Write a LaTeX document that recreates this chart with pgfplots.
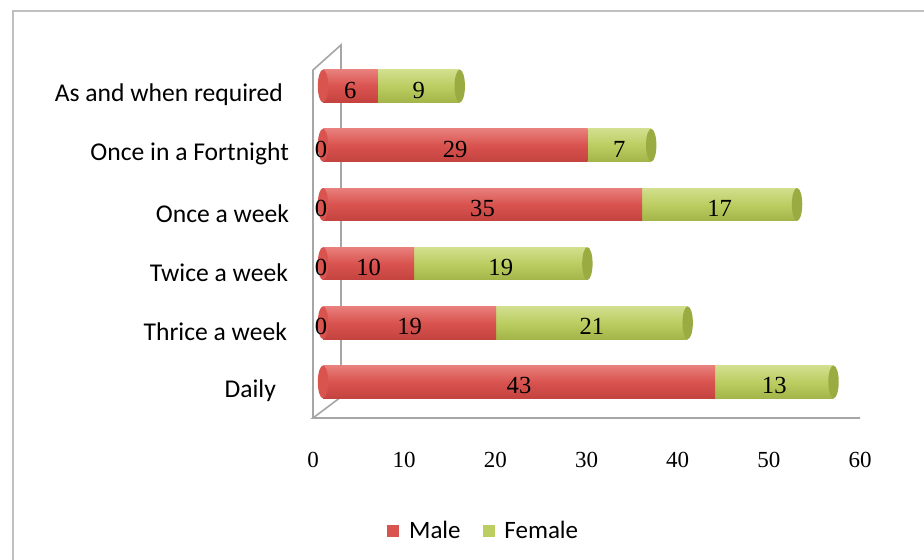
\documentclass[border=0pt]{standalone}
\usepackage{fontspec}
\setmainfont{Carlito}
\newfontfamily\timesf{Liberation Serif}
\usepackage{pgfplots}
\usepackage{pgfplotstable}
\pgfplotsset{compat=1.18}
\definecolor{mred}{HTML}{D9534F}
\definecolor{mredtop}{HTML}{E8807C}
\definecolor{mredbot}{HTML}{C4433F}
\definecolor{fgreen}{HTML}{BCCD62}
\definecolor{fgreentop}{HTML}{D2DF8E}
\definecolor{fgreenbot}{HTML}{A3B548}
\definecolor{capgreen}{HTML}{9AAB42}
\definecolor{framegray}{HTML}{A6A6A6}
\definecolor{bordergray}{HTML}{C0C0C0}

\pgfdeclareplotmark{rcap}{\pgfpathellipse{\pgfpointorigin}{\pgfpoint{2.6pt}{0pt}}{\pgfpoint{0pt}{8.2pt}}\pgfsetfillcolor{capgreen}\pgfusepath{fill}}
\pgfdeclareplotmark{lcap}{\pgfpathellipse{\pgfpointorigin}{\pgfpoint{2.6pt}{0pt}}{\pgfpoint{0pt}{8.2pt}}\pgfsetfillcolor{mred}\pgfusepath{fill}}

\pgfplotstableread{
y zl zero male female
0 {} 0 43 13
1 0 0 19 21
2 0 0 10 19
3 0 0 35 17
4 0 0 29 7
5 {} 0 6 9
}\freqdata

\begin{document}
\begin{tikzpicture}
\useasboundingbox (0pt,0pt) rectangle (462pt,280pt);
\fill[white] (0pt,0pt) rectangle (462pt,280pt);
\draw[bordergray, line width=1.2pt] (6.5pt,0pt) -- (6.5pt,274.5pt) -- (462pt,274.5pt);
\draw[framegray, line width=0.8pt] (156.5pt,71pt) -- (156.5pt,245pt) -- (170.5pt,257.5pt) -- (170.5pt,81.5pt) -- (156.5pt,71pt) -- (430pt,71pt);
\begin{axis}[
  at={(161.5pt,74.25pt)}, anchor=south west,
  scale only axis, width=273.5pt, height=177.5pt,
  xmin=0, xmax=60, ymin=-0.5, ymax=5.5,
  clip=false,
  axis line style={draw=none}, tick style={draw=none},
  xtick={0,10,...,60},
  ytick={0,...,5},
  yticklabels={Daily\kern6.5pt, Thrice a week\kern1pt, Twice a week\kern0.5pt, Once a week, Once in a Fortnight, As and when required\kern3pt},
  xticklabel style={font=\fontsize{11.5}{13}\timesf, anchor=center, xshift=-5pt, yshift=-24.25pt},
  yticklabel style={font=\fontsize{12.8}{15}\selectfont, anchor=east, xshift=-13.5pt, yshift=-4.5pt},
  /pgf/number format/assume math mode=true,
  legend style={at={(axis description cs:0.2957,-0.3366)}, anchor=center, draw=none, fill=none,
    font=\fontsize{12.5}{15}\selectfont, legend columns=2,
    /tikz/every odd column/.append style={column sep=3pt},
    /tikz/every even column/.append style={column sep=9pt}},
  labelstyle/.style={forget plot, only marks, mark=*, mark size=0pt, mark options={draw=none, fill=none},
    point meta=explicit symbolic, nodes near coords,
    every node near coord/.append style={font=\fontsize{12.3}{14}\timesf, text=black, anchor=center, yshift=-2pt}},
]
% left end caps of the cylinders
\addplot[forget plot, only marks, mark=lcap] table[x=zero, y=y]{\freqdata};
% bars: total (female on top of male), then male
\pgfplotsinvokeforeach{0,...,5}{
  \addplot[forget plot, xbar, bar shift=0pt, bar width=16.4pt, draw=none,
    top color=fgreentop, bottom color=fgreenbot, middle color=fgreen,
    restrict y to domain=#1:#1]
    table[x expr=\thisrow{male}+\thisrow{female}, y=y]{\freqdata};
  \addplot[forget plot, xbar, bar shift=0pt, bar width=16.4pt, draw=none,
    top color=mredtop, bottom color=mredbot, middle color=mred,
    restrict y to domain=#1:#1]
    table[x=male, y=y]{\freqdata};
}
% right end caps
\addplot[forget plot, only marks, mark=rcap] table[x expr=\thisrow{male}+\thisrow{female}, y=y]{\freqdata};
% value labels
\addplot[labelstyle] table[x expr=\thisrow{male}/2, y=y, meta=male]{\freqdata};
\addplot[labelstyle] table[x expr=\thisrow{male}+\thisrow{female}/2, y=y, meta=female]{\freqdata};
\addplot[labelstyle, every node near coord/.append style={xshift=-1pt}] table[x=zero, y=y, meta=zl]{\freqdata};
\addlegendimage{legend image code/.code={\fill[mred] (0pt,-2.75pt) rectangle (5.5pt,2.75pt);}}
\addlegendentry{Male}
\addlegendimage{legend image code/.code={\fill[fgreen] (0pt,-2.75pt) rectangle (5.5pt,2.75pt);}}
\addlegendentry{Female}
\end{axis}
\end{tikzpicture}
\end{document}
